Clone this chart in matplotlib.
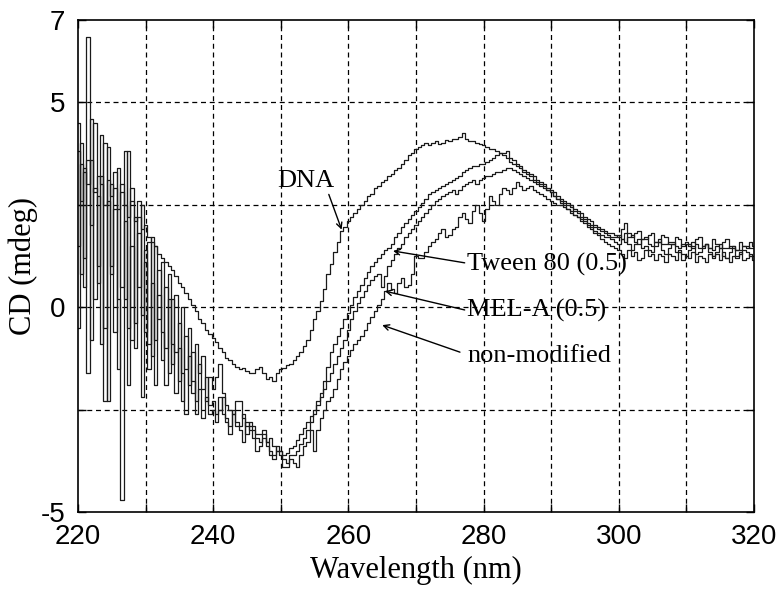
import numpy as np
import matplotlib
matplotlib.use("Agg")
import matplotlib.pyplot as plt

# Wavelength sampling (nm), 0.5 nm steps
wavelength = np.arange(220.0, 320.25, 0.5)

dna = [
    3.8, 2.6, 3.4, 3.0, 3.6, 2.8, 3.2, 3.0, 2.5, 3.1,            # 220
    2.7, 2.9, 2.4, 2.8, 2.5, 2.2, 2.6, 2.1, 2.2, 1.9,            # 225
    2.0, 1.7, 1.6, 1.5, 1.3, 1.2, 1.1, 1.0, 0.9, 0.75,           # 230
    0.6, 0.5, 0.35, 0.2, 0.05, -0.1, -0.3, -0.4, -0.55, -0.65,   # 235
    -0.75, -0.85, -1.0, -1.1, -1.25, -1.3, -1.4, -1.45, -1.5, -1.48,  # 240
    -1.55, -1.6, -1.62, -1.5, -1.45, -1.6, -1.75, -1.7, -1.8, -1.6,   # 245
    -1.5, -1.48, -1.42, -1.38, -1.3, -1.2, -1.1, -0.95, -0.8, -0.55,  # 250
    -0.3, -0.1, 0.15, 0.45, 0.8, 1.05, 1.35, 1.6, 1.85, 1.95,    # 255
    2.1, 2.2, 2.3, 2.4, 2.5, 2.6, 2.7, 2.75, 2.9, 2.95,          # 260
    3.05, 3.1, 3.2, 3.25, 3.35, 3.4, 3.5, 3.6, 3.7, 3.75,        # 265
    3.85, 3.9, 3.95, 4.0, 3.95, 4.0, 4.05, 3.98, 4.0, 4.08,      # 270
    4.05, 4.1, 4.1, 4.15, 4.25, 4.1, 4.05, 4.05, 4.0, 3.98,      # 275
    3.95, 3.9, 3.85, 3.85, 3.8, 3.75, 3.7, 3.65, 3.55, 3.5,      # 280
    3.45, 3.4, 3.3, 3.25, 3.2, 3.1, 3.05, 3.0, 2.95, 2.85,       # 285
    2.8, 2.7, 2.65, 2.55, 2.5, 2.4, 2.35, 2.25, 2.2, 2.1,        # 290
    2.05, 1.95, 1.9, 1.8, 1.75, 1.65, 1.6, 1.55, 1.5, 1.45,      # 295
    1.4, 1.3, 1.2, 1.4, 1.25, 1.35, 1.15, 1.2, 1.4, 1.25,        # 300
    1.3, 1.15, 1.3, 1.25, 1.1, 1.3, 1.25, 1.15, 1.35, 1.15,      # 305
    1.25, 1.2, 1.35, 1.1, 1.25, 1.2, 1.1, 1.3, 1.2, 1.3,         # 310
    1.15, 1.35, 1.2, 1.1, 1.25, 1.2, 1.35, 1.15, 1.2, 1.3,       # 315
    1.15,                                                         # 320
]

tween80 = [
    1.5, 3.5, 0.5, 6.6, 2.0, 4.5, 1.0, 3.2, -0.5, 3.9,           # 220
    0.8, 2.4, -1.5, 3.0, 0.2, 3.8, -0.8, 2.2, 0.5, 2.5,          # 225
    -0.6, 1.6, -1.2, 1.5, -0.3, 1.1, -1.0, 0.8, -1.4, 0.3,       # 230
    -1.8, 0.0, -1.5, -0.5, -2.1, -0.9, -1.6, -1.2, -2.3, -1.7,   # 235
    -2.0, -1.7, -1.4, -2.1, -2.4, -2.5, -2.6, -2.3, -2.3, -2.7,  # 240
    -2.9, -2.8, -3.0, -3.1, -3.1, -3.0, -3.3, -3.2, -3.4, -3.5,  # 245
    -3.5, -3.6, -3.55, -3.45, -3.4, -3.25, -3.1, -2.95, -2.8, -2.65,  # 250
    -2.5, -2.3, -2.1, -1.8, -1.45, -1.1, -0.9, -0.7, -0.5, -0.3,  # 255
    -0.15, 0.05, 0.25, 0.4, 0.55, 0.7, 0.85, 1.0, 1.1, 1.2,      # 260
    1.3, 1.4, 1.45, 1.55, 1.7, 1.8, 1.95, 2.05, 2.15, 2.25,      # 265
    2.35, 2.45, 2.55, 2.65, 2.75, 2.8, 2.85, 2.9, 2.95, 3.0,     # 270
    3.05, 3.1, 3.15, 3.2, 3.3, 3.35, 3.4, 3.45, 3.45, 3.5,       # 275
    3.5, 3.55, 3.6, 3.65, 3.7, 3.75, 3.75, 3.8, 3.65, 3.6,       # 280
    3.5, 3.45, 3.35, 3.3, 3.25, 3.2, 3.1, 3.05, 3.0, 2.9,        # 285
    2.85, 2.8, 2.7, 2.65, 2.6, 2.55, 2.5, 2.4, 2.35, 2.3,        # 290
    2.2, 2.15, 2.1, 2.0, 1.95, 1.9, 1.85, 1.8, 1.8, 1.75,        # 295
    1.7, 1.9, 2.05, 1.8, 1.7, 1.8, 1.85, 1.65, 1.65, 1.75,       # 300
    1.8, 1.6, 1.6, 1.75, 1.7, 1.55, 1.55, 1.7, 1.65, 1.5,        # 305
    1.6, 1.55, 1.45, 1.65, 1.7, 1.5, 1.55, 1.45, 1.65, 1.55,     # 310
    1.45, 1.6, 1.65, 1.45, 1.5, 1.4, 1.6, 1.5, 1.45, 1.6,        # 315
    1.5,                                                          # 320
]

mel_a = [
    -0.5, 4.0, 1.2, 3.6, -0.8, 2.9, 0.6, 4.2, -2.3, 2.6,         # 220
    1.0, 3.3, 0.2, -4.7, 2.1, -0.5, 2.9, -1.0, 1.8, -0.2,        # 225
    1.4, -1.5, 1.7, -0.8, 0.9, -1.3, 0.5, -1.6, 0.2, -1.1,       # 230
    -0.4, -2.3, -0.7, -1.9, -1.1, -2.6, -1.4, -2.0, -1.7, -2.4,  # 235
    -2.3, -2.6, -2.5, -2.2, -2.7, -2.9, -2.5, -2.8, -2.9, -2.6,  # 240
    -3.1, -2.9, -2.9, -3.2, -3.3, -3.1, -3.4, -3.5, -3.6, -3.4,  # 245
    -3.5, -3.7, -3.8, -3.6, -3.6, -3.5, -3.35, -3.2, -3.0, -2.8,  # 250
    -2.6, -2.4, -2.2, -2.0, -1.8, -1.6, -1.4, -1.2, -1.0, -0.8,  # 255
    -0.55, -0.3, -0.1, 0.1, 0.25, 0.4, 0.55, 0.65, 0.75, 0.8,    # 260
    0.5, 0.75, 1.0, 1.15, 1.3, 1.45, 1.55, 1.7, 1.8, 1.9,        # 265
    2.0, 2.1, 2.2, 2.3, 2.4, 2.5, 2.6, 2.65, 2.7, 2.75,          # 270
    2.8, 2.85, 2.75, 2.85, 2.95, 3.0, 3.05, 3.1, 3.0, 3.1,       # 275
    3.15, 3.2, 3.2, 3.25, 3.3, 3.3, 3.35, 3.4, 3.4, 3.35,        # 280
    3.3, 3.25, 3.2, 3.15, 3.1, 3.05, 3.0, 2.95, 2.9, 2.85,       # 285
    2.8, 2.7, 2.65, 2.6, 2.55, 2.5, 2.45, 2.35, 2.3, 2.2,        # 290
    2.15, 2.05, 2.0, 1.95, 1.9, 1.85, 1.8, 1.75, 1.7, 1.7,       # 295
    1.75, 1.65, 1.6, 1.7, 1.75, 1.6, 1.55, 1.65, 1.7, 1.55,      # 300
    1.5, 1.6, 1.65, 1.55, 1.55, 1.6, 1.6, 1.5, 1.45, 1.55,       # 305
    1.55, 1.5, 1.6, 1.55, 1.45, 1.5, 1.55, 1.45, 1.4, 1.5,       # 310
    1.55, 1.45, 1.45, 1.5, 1.5, 1.4, 1.4, 1.5, 1.5, 1.45,        # 315
    1.45,                                                         # 320
]

non_modified = [
    4.5, 0.8, 3.3, -1.6, 4.6, 0.2, 2.7, -0.9, 4.0, -2.3,         # 220
    3.0, -0.6, 3.4, 0.5, 3.8, -1.9, 1.5, -0.4, 2.6, -2.2,        # 225
    1.1, -0.9, 0.6, -1.9, 0.3, -0.6, -1.9, 0.2, -0.9, -2.1,      # 230
    -1.0, -1.6, -2.6, -1.2, -1.8, -2.3, -2.0, -2.7, -2.2, -2.6,  # 235
    -2.5, -2.8, -2.2, -2.6, -2.8, -3.1, -2.6, -2.9, -3.0, -3.3,  # 240
    -2.8, -3.0, -3.2, -3.5, -3.4, -3.2, -3.3, -3.6, -3.7, -3.5,  # 245
    -3.6, -3.9, -3.9, -3.7, -3.8, -3.9, -3.6, -3.4, -3.3, -3.0,  # 250
    -3.5, -3.0, -2.7, -2.5, -2.3, -2.2, -2.0, -1.75, -1.5, -1.35,  # 255
    -1.2, -1.05, -0.9, -0.8, -0.7, -0.55, -0.4, -0.25, -0.1, 0.05,  # 260
    0.2, 0.4, 0.6, 0.45, 0.35, 0.6, 0.7, 0.5, 0.55, 0.8,         # 265
    1.25, 1.2, 1.2, 1.35, 1.5, 1.6, 1.65, 1.8, 1.9, 1.7,         # 270
    1.75, 1.9, 1.95, 2.2, 2.3, 2.15, 2.05, 2.35, 2.5, 2.3,       # 275
    2.1, 2.4, 2.7, 2.6, 2.5, 2.75, 2.9, 2.85, 2.75, 2.9,         # 280
    3.05, 2.95, 2.85, 2.9, 2.95, 2.85, 2.8, 2.75, 2.7, 2.65,     # 285
    2.6, 2.55, 2.5, 2.5, 2.45, 2.4, 2.3, 2.25, 2.2, 2.15,        # 290
    2.1, 2.0, 1.95, 1.85, 1.8, 1.75, 1.7, 1.7, 1.65, 1.6,        # 295
    1.55, 1.65, 1.8, 1.55, 1.4, 1.55, 1.65, 1.45, 1.5, 1.4,      # 300
    1.35, 1.5, 1.6, 1.4, 1.3, 1.45, 1.55, 1.35, 1.4, 1.3,        # 305
    1.25, 1.4, 1.5, 1.3, 1.35, 1.45, 1.55, 1.35, 1.25, 1.35,     # 310
    1.45, 1.25, 1.2, 1.35, 1.45, 1.25, 1.3, 1.4, 1.35, 1.25,     # 315
    1.25,                                                         # 320
]

series = [dna, tween80, mel_a, non_modified]

xticks = [220, 230, 240, 250, 260, 270, 280, 290, 300, 310, 320]
xticklabels = ["220", "", "240", "", "260", "", "280", "", "300", "", "320"]
yticks = [-5, -2.5, 0, 2.5, 5, 7]
yticklabels = ["-5", "", "0", "", "5", "7"]

serif = ["Liberation Serif", "DejaVu Serif"]
sans = ["Liberation Sans", "DejaVu Sans"]

fig = plt.figure(figsize=(7.83, 5.96), dpi=100)
ax = fig.add_axes([0.0996, 0.141, 0.8634, 0.825])

for s in series:
    ax.plot(wavelength, s, drawstyle="steps-mid", color="#1a1a1a", lw=0.9)

ax.set_xlim(220, 320)
ax.set_ylim(-5, 7)
ax.set_xticks(xticks)
ax.set_xticklabels(xticklabels, family=sans, fontsize=20)
ax.set_yticks(yticks)
ax.set_yticklabels(yticklabels, family=sans, fontsize=20)
ax.tick_params(direction="in", length=6, width=1, top=True, right=True, pad=9)

for x in xticks[1:-1]:
    ax.axvline(x, color="black", lw=0.9, ls=(0, (4, 3)), zorder=0)
for y in [-2.5, 0, 2.5, 5]:
    ax.axhline(y, color="black", lw=0.9, ls=(0, (4, 3)), zorder=0)

for sp in ax.spines.values():
    sp.set_linewidth(1.2)

ax.set_xlabel("Wavelength (nm)", family=serif, fontsize=22, labelpad=4)
ax.set_ylabel("CD (mdeg)", family=serif, fontsize=22, labelpad=2)

arrow = dict(arrowstyle="->", color="black", lw=1, shrinkA=0, shrinkB=0)
ax.text(249.4, 2.8, "DNA", family=serif, fontsize=19, ha="left", va="bottom")
ax.annotate("", xy=(259.0, 1.89), xytext=(257.1, 2.75), arrowprops=arrow)

ax.text(277.6, 1.05, "Tween 80 (0.5)", family=serif, fontsize=19, ha="left", va="center")
ax.annotate("", xy=(266.6, 1.37), xytext=(277.2, 1.08), arrowprops=arrow)

ax.text(277.6, -0.07, "MEL-A (0.5)", family=serif, fontsize=19, ha="left", va="center")
ax.annotate("", xy=(265.4, 0.39), xytext=(277.2, -0.07), arrowprops=arrow)

ax.text(277.6, -1.2, "non-modified", family=serif, fontsize=19, ha="left", va="center")
ax.annotate("", xy=(265.0, -0.44), xytext=(276.5, -1.1), arrowprops=arrow)

fig.savefig("out.png", dpi=100)
